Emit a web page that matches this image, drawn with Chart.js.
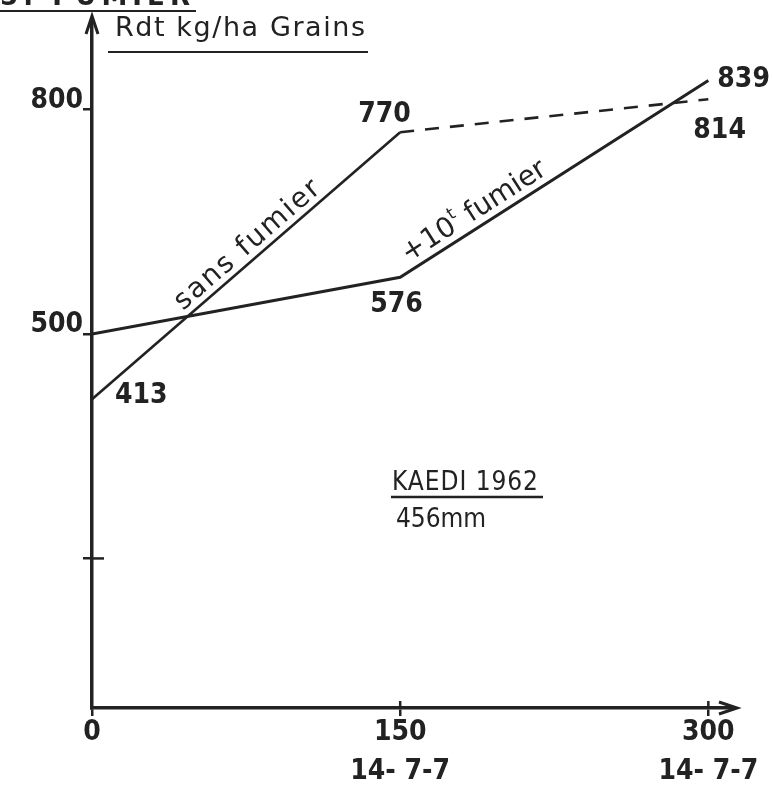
<!DOCTYPE html>
<html><head><meta charset="utf-8">
<script src="https://cdn.jsdelivr.net/npm/chart.js@4.4.0/dist/chart.umd.min.js"></script>
<style>html,body{margin:0;padding:0;background:#fff;}canvas{display:block;}</style>
</head><body>
<canvas id="c" width="773" height="787"></canvas>
<script>
// ---- data ----
const xValues = [0, 150, 300];
const xTickLabels = ['0', '150', '300'];
const xSubLabels = ['', '14- 7-7', '14- 7-7'];
const sansFumier = [413, 770, 814];
const avecFumier = [500, 576, 839];
const yTickValues = [200, 500, 800];
const yTickLabels = ['', '500', '800'];
const seriesNames = ['sans fumier', '+10t fumier'];
const yTitle = 'Rdt kg/ha Grains';
const placeText = 'KAEDI 1962';
const rainText = '456mm';
const headerText = '5. FUMIER';

// ---- style ----
const ink = '#222222';
const numFont = '"DejaVu Sans Condensed", "DejaVu Sans", sans-serif';
const txtFont = '"DejaVu Sans", sans-serif';

function fitText(ctx, text, x, y, width) {
  ctx.letterSpacing = '0px';
  const w = ctx.measureText(text).width;
  const ls = text.length > 1 ? (width - w) / (text.length - 1) : 0;
  ctx.letterSpacing = ls + 'px';
  ctx.textAlign = 'left';
  ctx.fillText(text, x, y);
  ctx.letterSpacing = '0px';
}

// value labels: [datasetIndex, pointIndex, dx, dy]
const valueLabelPos = [
  [0, 0, 23, -3], [0, 1, -42, -17], [0, 2, -15, 31],
  [1, 1, -30, 27], [1, 2, 9, -1]
];

const decor = {
  id: 'decor',
  afterDraw(chart) {
    const ctx = chart.ctx;
    const xs = chart.scales.x, ys = chart.scales.y;
    const ax = xs.getPixelForValue(0), ay = ys.getPixelForValue(0);
    ctx.save();
    ctx.fillStyle = ink; ctx.strokeStyle = ink;

    // header (cut off at top) + underline
    ctx.font = 'bold 26px ' + txtFont;
    ctx.textBaseline = 'alphabetic';
    fitText(ctx, headerText, 0, 5, 190);
    ctx.lineWidth = 2;
    ctx.beginPath(); ctx.moveTo(0, 11); ctx.lineTo(196, 11); ctx.stroke();

    // axis arrows
    ctx.lineWidth = 3;
    const top = chart.chartArea.top, right = chart.chartArea.right;
    ctx.beginPath(); ctx.moveTo(ax - 6, top + 14); ctx.lineTo(ax, top - 4); ctx.lineTo(ax + 6, top + 14); ctx.stroke();
    ctx.beginPath(); ctx.moveTo(right - 14, ay - 6); ctx.lineTo(right + 4, ay); ctx.lineTo(right - 14, ay + 6); ctx.stroke();

    // crosses on ticks
    ctx.lineWidth = 2.5;
    const y200 = ys.getPixelForValue(yTickValues[0]);
    ctx.beginPath(); ctx.moveTo(ax, y200); ctx.lineTo(ax + 12, y200); ctx.stroke();
    [xValues[1], xValues[2]].forEach(v => {
      const px = xs.getPixelForValue(v);
      ctx.beginPath(); ctx.moveTo(px, ay); ctx.lineTo(px, ay - 7); ctx.stroke();
    });

    // y-axis title + underline
    ctx.font = '27px ' + txtFont;
    fitText(ctx, yTitle, 115, 36, 250);
    ctx.lineWidth = 2;
    ctx.beginPath(); ctx.moveTo(108, 52); ctx.lineTo(368, 52); ctx.stroke();

    // value labels
    ctx.font = 'bold 28px ' + numFont;
    ctx.textBaseline = 'middle'; ctx.textAlign = 'left';
    const sets = [sansFumier, avecFumier];
    valueLabelPos.forEach(([d, i, dx, dy]) => {
      const px = xs.getPixelForValue(xValues[i]);
      const py = ys.getPixelForValue(sets[d][i]);
      ctx.fillText(String(sets[d][i]), px + dx, py + dy);
    });

    // rotated series labels
    function along(arr, i0, t0, t1, off, drawFn) {
      const x0 = xs.getPixelForValue(xValues[i0]), y0 = ys.getPixelForValue(arr[i0]);
      const x1 = xs.getPixelForValue(xValues[i0 + 1]), y1 = ys.getPixelForValue(arr[i0 + 1]);
      const len = Math.hypot(x1 - x0, y1 - y0);
      const ang = Math.atan2(y1 - y0, x1 - x0);
      ctx.save();
      ctx.translate(x0 + (x1 - x0) * t0, y0 + (y1 - y0) * t0);
      ctx.rotate(ang);
      ctx.textBaseline = 'alphabetic';
      drawFn((t1 - t0) * len, -off);
      ctx.restore();
    }
    ctx.font = '28px ' + txtFont;
    along(sansFumier, 0, 0.31, 0.76, 7, (w, y) => fitText(ctx, seriesNames[0], 0, y, w));
    along(avecFumier, 1, 0.04, 0.49, 8, (w, y) => {
      const a = '+10', b = 't', c = ' fumier';
      ctx.font = '28px ' + txtFont; const wa = ctx.measureText(a).width, wc = ctx.measureText(c).width;
      ctx.font = '17px ' + txtFont; const wb = ctx.measureText(b).width;
      const gap = Math.max(0, (w - wa - wb - wc) / 10);
      ctx.font = '28px ' + txtFont; ctx.letterSpacing = gap + 'px';
      ctx.fillText(a, 0, y);
      let x = wa + 3 * gap;
      ctx.font = '17px ' + txtFont;
      ctx.fillText(b, x, y - 13);
      x += wb + gap;
      ctx.font = '28px ' + txtFont;
      ctx.fillText(c, x, y);
      ctx.letterSpacing = '0px';
    });

    // site annotation
    ctx.font = '26px ' + numFont;
    ctx.textBaseline = 'alphabetic';
    fitText(ctx, placeText, 392, 490, 146);
    ctx.lineWidth = 2.5;
    ctx.beginPath(); ctx.moveTo(391, 497); ctx.lineTo(543, 497); ctx.stroke();
    ctx.font = '26px ' + numFont;
    fitText(ctx, rainText, 396, 527, 90);
    ctx.restore();
  }
};

new Chart(document.getElementById('c'), {
  type: 'line',
  data: {
    datasets: [
      {
        label: seriesNames[0],
        data: xValues.map((x, i) => ({ x, y: sansFumier[i] })),
        borderColor: ink, borderWidth: 2.6, pointRadius: 0, tension: 0,
        segment: { borderDash: c => c.p0DataIndex === 1 ? [14, 11] : undefined }
      },
      {
        label: seriesNames[1],
        data: xValues.map((x, i) => ({ x, y: avecFumier[i] })),
        borderColor: ink, borderWidth: 3, pointRadius: 0, tension: 0
      }
    ]
  },
  options: {
    responsive: false, animation: false,
    layout: { padding: { left: 0, top: 20, right: 40, bottom: 0 } },
    plugins: { legend: { display: false }, tooltip: { enabled: false } },
    scales: {
      x: {
        type: 'linear', min: 0, max: 312,
        afterBuildTicks: s => { s.ticks = xValues.map(v => ({ value: v })); },
        afterFit: s => { s.height = 79; },
        ticks: {
          autoSkip: false, maxRotation: 0, color: ink, padding: -3,
          font: { family: numFont, size: 28, weight: 'bold', lineHeight: 1.4 },
          callback: v => { const i = xValues.indexOf(v); return xSubLabels[i] ? [xTickLabels[i], xSubLabels[i]] : xTickLabels[i]; }
        },
        grid: { drawOnChartArea: false, drawTicks: true, tickLength: 8, color: ink, lineWidth: 2.5 },
        border: { color: ink, width: 3.5 }
      },
      y: {
        min: 0, max: 920,
        afterBuildTicks: s => { s.ticks = yTickValues.map(v => ({ value: v })); },
        afterFit: s => { s.width = 92; },
        ticks: {
          color: ink, padding: 0, labelOffset: -9,
          font: { family: numFont, size: 28, weight: 'bold' },
          callback: v => yTickLabels[yTickValues.indexOf(v)]
        },
        grid: { drawOnChartArea: false, drawTicks: true, tickLength: 9, color: ink, lineWidth: 2.5 },
        border: { color: ink, width: 3.5 }
      }
    }
  },
  plugins: [decor]
});
</script>
</body></html>
